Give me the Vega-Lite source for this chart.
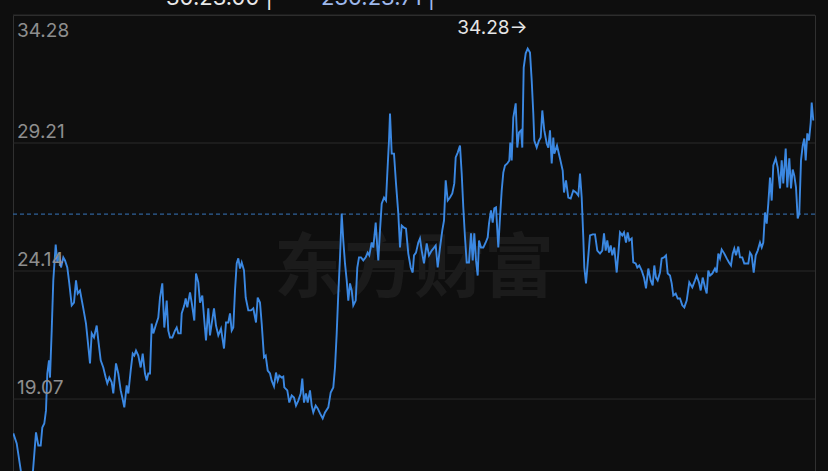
{
"$schema": "https://vega.github.io/schema/vega-lite/v6.json",
"width": 802, "height": 457,
"autosize": {"type": "none"},
"padding": {"left": 13, "top": 15, "right": 13, "bottom": 0},
"background": "#0e0e0e",
"config": {"view": {"stroke": "#303030", "strokeWidth": 1}, "font": "Inter"},
"datasets": {
"series": [
{"t":0.3,"v":17.71},{"t":3.7,"v":17.31},{"t":9,"v":15.92},{"t":17,"v":15.92},{"t":20,"v":16.24},{"t":23,"v":17.75},{"t":25.3,"v":17.23},{"t":27.7,"v":17.23},{"t":29.3,"v":17.94},{"t":31.3,"v":18.10},{"t":33,"v":18.62},{"t":34.3,"v":20.08},{"t":36,"v":20.60},{"t":37,"v":19.92},{"t":38.7,"v":21.78},{"t":40.3,"v":23.77},{"t":42.7,"v":25.19},{"t":44.3,"v":24.48},{"t":46.3,"v":24.76},{"t":48,"v":24.28},{"t":50.3,"v":24.68},{"t":52,"v":24.56},{"t":54.3,"v":24.28},{"t":56.3,"v":23.65},{"t":58.7,"v":22.78},{"t":61,"v":22.89},{"t":63,"v":23.77},{"t":64.7,"v":23.25},{"t":67,"v":23.37},{"t":70.3,"v":22.66},{"t":73,"v":22.06},{"t":74.7,"v":21.39},{"t":77,"v":20.48},{"t":78.7,"v":21.67},{"t":81,"v":21.51},{"t":83.7,"v":21.98},{"t":85.3,"v":21.39},{"t":87.7,"v":20.60},{"t":90.3,"v":20.32},{"t":92.7,"v":19.92},{"t":94.3,"v":19.69},{"t":96.3,"v":19.92},{"t":98.7,"v":19.73},{"t":100.3,"v":19.29},{"t":103,"v":20.48},{"t":105.3,"v":20.08},{"t":107.7,"v":19.41},{"t":109.3,"v":19.13},{"t":111.3,"v":18.74},{"t":113.7,"v":19.61},{"t":115.3,"v":19.29},{"t":117.7,"v":20.20},{"t":119.7,"v":20.87},{"t":121.3,"v":20.79},{"t":123,"v":20.99},{"t":125.3,"v":20.79},{"t":127.7,"v":20.32},{"t":129.7,"v":20.87},{"t":132,"v":20.08},{"t":133.7,"v":19.80},{"t":135.3,"v":20.08},{"t":137,"v":20.08},{"t":138.7,"v":22.06},{"t":140.3,"v":21.67},{"t":142.7,"v":21.98},{"t":145.3,"v":22.30},{"t":147,"v":23.09},{"t":149.3,"v":23.65},{"t":151.3,"v":21.90},{"t":153.7,"v":22.97},{"t":155.3,"v":21.78},{"t":157,"v":21.51},{"t":159.3,"v":21.51},{"t":162,"v":21.78},{"t":163.7,"v":21.90},{"t":165.3,"v":21.67},{"t":167.7,"v":21.67},{"t":168.7,"v":22.46},{"t":171.3,"v":22.78},{"t":172.7,"v":23.05},{"t":174.3,"v":22.70},{"t":177,"v":23.29},{"t":178.7,"v":22.89},{"t":181.3,"v":22.18},{"t":183,"v":24.04},{"t":185.3,"v":23.69},{"t":187,"v":22.89},{"t":189.3,"v":23.17},{"t":191.3,"v":22.18},{"t":193,"v":21.39},{"t":195.3,"v":22.66},{"t":197,"v":21.59},{"t":198.7,"v":22.06},{"t":201,"v":22.66},{"t":203,"v":21.98},{"t":205.3,"v":21.59},{"t":208,"v":21.86},{"t":211,"v":21.07},{"t":213,"v":22.10},{"t":215.3,"v":22.10},{"t":217,"v":22.46},{"t":218.7,"v":21.78},{"t":220.3,"v":21.90},{"t":222,"v":23.37},{"t":223.7,"v":24.44},{"t":225.3,"v":24.64},{"t":227,"v":24.24},{"t":228.7,"v":24.48},{"t":231,"v":24.16},{"t":232.7,"v":23.09},{"t":235.3,"v":22.58},{"t":238,"v":22.58},{"t":240.3,"v":22.66},{"t":243,"v":22.10},{"t":244.7,"v":23.09},{"t":247,"v":22.89},{"t":248.7,"v":22.06},{"t":251,"v":20.72},{"t":252.7,"v":20.79},{"t":254.7,"v":20.20},{"t":257,"v":20.08},{"t":258.7,"v":19.80},{"t":261,"v":19.57},{"t":263,"v":20.12},{"t":264.7,"v":19.80},{"t":266.3,"v":20.00},{"t":268.7,"v":19.92},{"t":270.3,"v":19.96},{"t":271.3,"v":19.53},{"t":274.3,"v":19.41},{"t":276.3,"v":18.93},{"t":278.7,"v":19.21},{"t":281,"v":19.13},{"t":283,"v":18.81},{"t":285.3,"v":19.01},{"t":287.7,"v":19.29},{"t":289.3,"v":19.88},{"t":291,"v":18.93},{"t":293,"v":19.29},{"t":294.7,"v":18.93},{"t":297,"v":19.41},{"t":298.7,"v":18.81},{"t":300.3,"v":18.54},{"t":302.7,"v":18.81},{"t":304.7,"v":18.70},{"t":307,"v":18.50},{"t":309.7,"v":18.30},{"t":312,"v":18.54},{"t":315.3,"v":18.74},{"t":317.7,"v":19.33},{"t":320.3,"v":19.53},{"t":322,"v":20.32},{"t":323.7,"v":21.67},{"t":325.3,"v":23.25},{"t":327,"v":24.68},{"t":328.7,"v":26.42},{"t":330.3,"v":25.35},{"t":332,"v":24.44},{"t":333.7,"v":23.77},{"t":335.3,"v":22.97},{"t":337,"v":23.65},{"t":338.7,"v":23.37},{"t":340.3,"v":22.78},{"t":342.7,"v":22.97},{"t":344.3,"v":24.28},{"t":346,"v":24.68},{"t":348,"v":24.68},{"t":350.3,"v":24.56},{"t":352.7,"v":24.68},{"t":354.7,"v":24.87},{"t":356.3,"v":24.76},{"t":358.7,"v":25.27},{"t":360.3,"v":25.07},{"t":362.7,"v":26.06},{"t":364.3,"v":25.07},{"t":365.3,"v":24.56},{"t":367,"v":25.75},{"t":368.7,"v":26.81},{"t":371,"v":27.05},{"t":373,"v":26.93},{"t":374.3,"v":28.00},{"t":376,"v":29.31},{"t":377,"v":30.38},{"t":378.7,"v":28.79},{"t":381,"v":28.79},{"t":383,"v":27.61},{"t":385.3,"v":26.42},{"t":387,"v":25.07},{"t":388.7,"v":25.94},{"t":391,"v":25.86},{"t":393,"v":25.82},{"t":395.3,"v":24.83},{"t":397.7,"v":24.28},{"t":399.7,"v":24.08},{"t":401,"v":24.76},{"t":403,"v":24.87},{"t":405.3,"v":25.27},{"t":407,"v":25.43},{"t":408.7,"v":24.95},{"t":411,"v":24.44},{"t":413.7,"v":25.23},{"t":416,"v":24.76},{"t":418.7,"v":24.95},{"t":420.3,"v":25.03},{"t":422.7,"v":25.15},{"t":424.7,"v":24.28},{"t":427,"v":25.07},{"t":429.3,"v":25.75},{"t":431,"v":26.14},{"t":432.7,"v":27.73},{"t":434.7,"v":26.93},{"t":437,"v":27.05},{"t":439.3,"v":27.21},{"t":441.3,"v":27.61},{"t":442.7,"v":28.64},{"t":444.7,"v":28.83},{"t":447,"v":29.11},{"t":448.7,"v":28.00},{"t":450.3,"v":26.66},{"t":452,"v":25.47},{"t":453.7,"v":24.48},{"t":456,"v":24.48},{"t":458,"v":25.63},{"t":459.7,"v":24.56},{"t":461.3,"v":25.63},{"t":463,"v":24.56},{"t":464.7,"v":23.96},{"t":466,"v":25.35},{"t":468,"v":25.07},{"t":470.3,"v":25.07},{"t":472.7,"v":25.27},{"t":474.7,"v":25.47},{"t":476,"v":26.02},{"t":478,"v":26.54},{"t":479.7,"v":26.06},{"t":481.3,"v":26.62},{"t":483,"v":26.66},{"t":485.3,"v":25.07},{"t":487,"v":26.26},{"t":488.7,"v":27.33},{"t":490.3,"v":28.04},{"t":492,"v":28.32},{"t":494.3,"v":28.40},{"t":496.3,"v":28.52},{"t":497.3,"v":29.23},{"t":498.7,"v":28.52},{"t":500.3,"v":30.22},{"t":502.7,"v":30.78},{"t":504.3,"v":29.03},{"t":506,"v":29.63},{"t":508,"v":29.71},{"t":509.3,"v":29.03},{"t":510.7,"v":32.20},{"t":512.7,"v":32.76},{"t":514.7,"v":32.95},{"t":517,"v":32.79},{"t":518.7,"v":31.69},{"t":520.3,"v":30.38},{"t":521.3,"v":29.31},{"t":523.7,"v":29.03},{"t":526,"v":29.31},{"t":527.7,"v":29.43},{"t":529.3,"v":30.50},{"t":531.3,"v":29.71},{"t":533.7,"v":29.19},{"t":535.3,"v":29.03},{"t":537,"v":29.71},{"t":538.7,"v":28.40},{"t":540.3,"v":29.43},{"t":541.3,"v":28.79},{"t":544,"v":29.11},{"t":547,"v":28.60},{"t":549.7,"v":28.12},{"t":551,"v":27.25},{"t":553,"v":27.73},{"t":555.3,"v":27.05},{"t":557.7,"v":27.01},{"t":560.3,"v":27.33},{"t":563,"v":27.25},{"t":565.3,"v":27.13},{"t":567,"v":28.00},{"t":568.7,"v":27.05},{"t":570.3,"v":25.47},{"t":571.3,"v":24.28},{"t":573,"v":23.65},{"t":574.7,"v":24.44},{"t":577,"v":25.55},{"t":579.7,"v":25.59},{"t":582,"v":25.59},{"t":584.3,"v":24.95},{"t":587,"v":24.83},{"t":589.3,"v":24.95},{"t":591,"v":25.63},{"t":592.7,"v":24.95},{"t":594.3,"v":25.35},{"t":596,"v":24.87},{"t":597.7,"v":25.15},{"t":599.3,"v":24.76},{"t":601.3,"v":25.07},{"t":603.7,"v":24.08},{"t":605.3,"v":24.83},{"t":607,"v":25.67},{"t":609.3,"v":25.55},{"t":611,"v":25.67},{"t":613,"v":25.27},{"t":614.7,"v":25.67},{"t":616.3,"v":25.35},{"t":618.7,"v":25.43},{"t":620.3,"v":24.48},{"t":622.7,"v":24.44},{"t":624.3,"v":24.28},{"t":626.3,"v":24.36},{"t":628.7,"v":24.16},{"t":631,"v":23.88},{"t":633,"v":23.45},{"t":635.3,"v":24.24},{"t":637.7,"v":23.77},{"t":639.7,"v":23.57},{"t":641.3,"v":24.36},{"t":643,"v":23.88},{"t":644.7,"v":23.77},{"t":647,"v":24.08},{"t":648.7,"v":24.64},{"t":651,"v":24.68},{"t":653,"v":24.76},{"t":654.7,"v":24.04},{"t":657,"v":23.96},{"t":658.7,"v":23.65},{"t":660.3,"v":23.17},{"t":662.7,"v":23.25},{"t":664.7,"v":23.05},{"t":667,"v":23.05},{"t":669.3,"v":22.78},{"t":671.3,"v":22.70},{"t":673.7,"v":22.97},{"t":676.3,"v":23.69},{"t":679.3,"v":23.49},{"t":682,"v":23.77},{"t":683.7,"v":23.96},{"t":686,"v":23.69},{"t":687.7,"v":23.37},{"t":689.7,"v":23.88},{"t":692,"v":23.49},{"t":693.7,"v":23.25},{"t":695.3,"v":24.16},{"t":697,"v":23.96},{"t":699.3,"v":24.04},{"t":702,"v":24.24},{"t":703.7,"v":24.08},{"t":705.3,"v":24.83},{"t":707,"v":24.64},{"t":708.7,"v":24.99},{"t":711.3,"v":24.83},{"t":713.7,"v":24.64},{"t":716,"v":24.48},{"t":718,"v":24.36},{"t":719.7,"v":24.83},{"t":721.3,"v":25.03},{"t":723,"v":24.76},{"t":725.3,"v":25.11},{"t":727,"v":24.68},{"t":729.3,"v":24.68},{"t":731.3,"v":24.44},{"t":733.7,"v":24.44},{"t":735.3,"v":24.44},{"t":737,"v":24.87},{"t":738.7,"v":24.76},{"t":740.7,"v":24.08},{"t":742.7,"v":24.76},{"t":744.7,"v":24.95},{"t":747,"v":25.27},{"t":748.7,"v":25.07},{"t":750.3,"v":25.27},{"t":752,"v":26.46},{"t":753.7,"v":26.02},{"t":755.3,"v":26.81},{"t":757,"v":27.84},{"t":758.7,"v":26.93},{"t":760.3,"v":28.32},{"t":762.7,"v":28.60},{"t":764.7,"v":28.24},{"t":767,"v":27.41},{"t":768.7,"v":28.52},{"t":770.3,"v":27.61},{"t":772.7,"v":28.99},{"t":774.3,"v":27.45},{"t":776.3,"v":28.60},{"t":778,"v":27.41},{"t":779.7,"v":28.16},{"t":781.3,"v":27.92},{"t":783,"v":27.45},{"t":784.7,"v":26.22},{"t":786.3,"v":26.42},{"t":788,"v":28.52},{"t":789.7,"v":29.11},{"t":791.3,"v":29.39},{"t":792.7,"v":28.52},{"t":794.3,"v":29.59},{"t":796,"v":29.31},{"t":797.7,"v":30.02},{"t":798.7,"v":30.81},{"t":800.3,"v":30.10}
]
},
"layer": [
{"data": {"values": [{"v":34.28},{"v":29.21},{"v":24.14},{"v":19.07}]},
 "mark": {"type": "rule", "color": "#2a2a2a", "strokeWidth": 1},
 "encoding": {"y": {"field": "v", "type": "quantitative", "scale": {"domain": [16.18, 34.28], "nice": false, "zero": false}, "axis": null}}},
{"data": {"values": [{"t":401,"v":24.16,"txt":"东方财富"}]},
 "mark": {"type": "text", "font": "Noto Sans CJK SC", "fontWeight": "bold", "fontSize": 70, "color": "#1b1b1b", "align": "center", "baseline": "middle"},
 "encoding": {"x": {"field": "t", "type": "quantitative", "scale": {"domain": [0, 802], "nice": false, "zero": false}, "axis": null}, "y": {"field": "v", "type": "quantitative"}, "text": {"field": "txt"}}},
{"data": {"values": [{"v":26.39}]},
 "mark": {"type": "rule", "color": "#2f6199", "strokeDash": [4, 3], "strokeWidth": 1.3},
 "encoding": {"y": {"field": "v", "type": "quantitative"}}},
{"data": {"name": "series"},
 "mark": {"type": "line", "color": "#3b88e2", "strokeWidth": 1.9, "clip": true},
 "encoding": {"x": {"field": "t", "type": "quantitative"}, "y": {"field": "v", "type": "quantitative"}}},
{"data": {"values": [{"t":0,"v":29.21,"txt":"29.21"},{"t":0,"v":24.14,"txt":"24.14"},{"t":0,"v":19.07,"txt":"19.07"}]},
 "mark": {"type": "text", "align": "left", "baseline": "alphabetic", "dx": 4, "dy": -5, "fontSize": 19, "color": "#8e8e8e"},
 "encoding": {"x": {"field": "t", "type": "quantitative"}, "y": {"field": "v", "type": "quantitative"}, "text": {"field": "txt"}}},
{"data": {"values": [{"t":0,"v":34.28,"txt":"34.28"}]},
 "mark": {"type": "text", "align": "left", "baseline": "alphabetic", "dx": 4, "dy": 22, "fontSize": 19, "color": "#8e8e8e"},
 "encoding": {"x": {"field": "t", "type": "quantitative"}, "y": {"field": "v", "type": "quantitative"}, "text": {"field": "txt"}}},
{"data": {"values": [{"t":514.7,"v":33.75,"txt":"34.28→"}]},
 "mark": {"type": "text", "align": "right", "baseline": "middle", "fontSize": 19, "color": "#e6e6e6"},
 "encoding": {"x": {"field": "t", "type": "quantitative"}, "y": {"field": "v", "type": "quantitative"}, "text": {"field": "txt"}}},
{"data": {"values": [{"t":153,"v":34.68,"txt":"30.23.00  |"}]},
 "mark": {"type": "text", "align": "left", "baseline": "alphabetic", "fontSize": 22, "color": "#e8e8e8"},
 "encoding": {"x": {"field": "t", "type": "quantitative"}, "y": {"field": "v", "type": "quantitative"}, "text": {"field": "txt"}}},
{"data": {"values": [{"t":308,"v":34.68,"txt":"230.23.71  |"}]},
 "mark": {"type": "text", "align": "left", "baseline": "alphabetic", "fontSize": 22, "color": "#9db8ec"},
 "encoding": {"x": {"field": "t", "type": "quantitative"}, "y": {"field": "v", "type": "quantitative"}, "text": {"field": "txt"}}}
]
}
